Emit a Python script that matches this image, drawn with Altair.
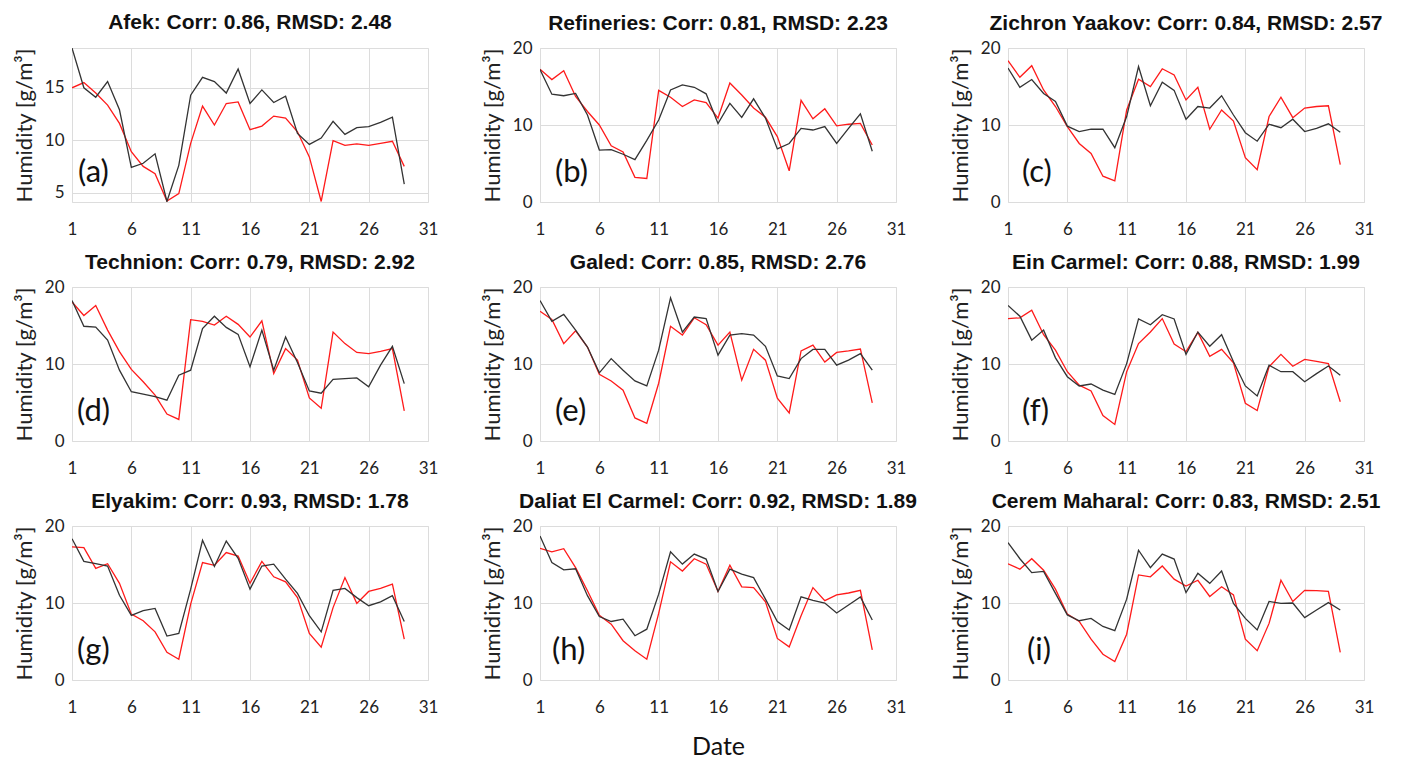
import altair as alt
import pandas as pd

days = list(range(1, 30))

stations = ["Afek", "Refineries", "Zichron Yaakov", "Technion", "Galed",
            "Ein Carmel", "Elyakim", "Daliat El Carmel", "Cerem Maharal"]
corr = ["0.86", "0.81", "0.84", "0.79", "0.85", "0.88", "0.93", "0.92", "0.83"]
rmsd = ["2.48", "2.23", "2.57", "2.92", "2.76", "1.99", "1.78", "1.89", "2.51"]
letters = ["(a)", "(b)", "(c)", "(d)", "(e)", "(f)", "(g)", "(h)", "(i)"]

black_a = [18.8, 15.0, 14.1, 15.6, 12.9, 7.4, 7.8, 8.7, 4.15, 7.6, 14.3, 16.0, 15.6, 14.5, 16.8,
           13.5, 14.8, 13.6, 14.2, 10.65, 9.6, 10.2, 11.8, 10.55, 11.2, 11.3, 11.7, 12.2, 5.8]
red_a = [15.0, 15.5, 14.5, 13.35, 11.6, 8.9, 7.5, 6.8, 4.2, 4.9, 9.7, 13.25, 11.45, 13.5, 13.65,
         11.0, 11.35, 12.3, 12.1, 10.8, 8.4, 4.15, 9.95, 9.5, 9.65, 9.5, 9.7, 9.9, 7.5]

black_b = [17.2, 14.0, 13.8, 14.1, 11.3, 6.75, 6.8, 6.2, 5.5, 8.0, 10.65, 14.55, 15.2, 14.9, 14.05,
           10.2, 12.8, 11.0, 13.4, 10.9, 6.9, 7.6, 9.55, 9.35, 9.8, 7.6, 9.55, 11.45, 6.6]
red_b = [17.25, 15.9, 17.05, 13.7, 11.75, 10.0, 7.3, 6.5, 3.2, 3.05, 14.5, 13.6, 12.4, 13.25, 12.9,
         10.9, 15.45, 13.9, 12.2, 11.0, 8.5, 4.05, 13.2, 10.8, 12.1, 9.9, 10.1, 10.2, 7.4]

black_c = [17.4, 14.9, 15.9, 14.1, 13.05, 9.85, 9.15, 9.45, 9.45, 7.05, 11.1, 17.6, 12.5, 15.55, 14.5,
           10.75, 12.4, 12.2, 13.8, 11.3, 9.0, 7.9, 10.1, 9.65, 10.75, 9.15, 9.55, 10.15, 9.05]
red_c = [18.35, 16.2, 17.7, 14.55, 12.4, 9.8, 7.6, 6.3, 3.35, 2.75, 11.95, 15.95, 15.0, 17.3, 16.5,
         13.25, 14.9, 9.45, 11.95, 10.5, 5.75, 4.2, 11.1, 13.6, 10.95, 12.2, 12.4, 12.5, 4.85]

black_d = [18.25, 14.9, 14.8, 13.1, 9.2, 6.4, 6.1, 5.75, 5.3, 8.55, 9.2, 14.6, 16.2, 14.75, 13.85,
           9.65, 14.4, 9.2, 13.5, 10.2, 6.5, 6.2, 8.0, 8.1, 8.2, 7.05, 9.85, 12.3, 7.45]
red_d = [18.05, 16.3, 17.6, 14.4, 11.6, 9.3, 7.7, 5.95, 3.5, 2.8, 15.75, 15.55, 15.05, 16.2, 15.15,
         13.5, 15.6, 8.75, 12.0, 10.5, 5.6, 4.25, 14.15, 12.65, 11.5, 11.35, 11.65, 12.0, 3.9]

black_e = [18.25, 15.55, 16.45, 14.4, 12.2, 8.85, 10.7, 9.2, 7.8, 7.15, 11.8, 18.6, 14.15, 16.1, 15.9,
           11.15, 13.75, 13.95, 13.75, 12.3, 8.45, 8.1, 10.7, 11.9, 11.9, 9.85, 10.5, 11.35, 9.2]
red_e = [16.85, 15.8, 12.65, 14.3, 12.2, 8.65, 7.8, 6.6, 3.0, 2.3, 7.5, 14.9, 13.75, 16.0, 15.1,
         12.45, 14.15, 7.9, 11.9, 10.5, 5.55, 3.65, 11.7, 12.45, 10.25, 11.5, 11.7, 11.95, 4.95]

black_f = [17.6, 16.2, 13.1, 14.4, 10.8, 8.35, 7.15, 7.4, 6.6, 6.05, 10.05, 15.85, 15.1, 16.4, 15.85,
           11.25, 14.15, 12.3, 13.8, 10.3, 7.15, 5.85, 9.85, 9.0, 9.0, 7.7, 8.75, 9.75, 8.55]
red_f = [15.9, 16.0, 17.0, 13.8, 11.8, 9.0, 7.25, 6.5, 3.3, 2.15, 9.0, 12.65, 14.15, 15.9, 12.6,
         11.6, 14.1, 11.0, 11.9, 10.15, 4.9, 3.95, 9.65, 11.25, 9.7, 10.6, 10.35, 10.05, 5.1]

black_g = [18.35, 15.4, 15.1, 14.8, 11.0, 8.4, 9.0, 9.3, 5.7, 6.05, 11.8, 18.15, 14.75, 18.05, 15.8,
           11.8, 14.8, 15.05, 13.1, 11.25, 8.35, 6.25, 11.65, 11.9, 10.7, 9.65, 10.15, 10.95, 7.6]
red_g = [17.3, 17.2, 14.5, 15.1, 12.55, 8.55, 7.7, 6.25, 3.6, 2.7, 9.85, 15.25, 14.9, 16.55, 16.1,
         12.55, 15.4, 13.4, 12.75, 10.7, 6.05, 4.25, 9.4, 13.3, 9.95, 11.5, 11.9, 12.45, 5.3]

black_h = [18.7, 15.25, 14.3, 14.45, 10.95, 8.25, 7.6, 7.9, 5.75, 6.6, 11.15, 16.65, 15.05, 16.35, 15.7,
           11.5, 14.4, 13.75, 13.3, 10.5, 7.6, 6.5, 10.8, 10.35, 10.0, 8.7, 9.75, 10.8, 7.8]
red_h = [17.1, 16.65, 17.05, 14.6, 11.6, 8.4, 7.25, 5.1, 3.8, 2.7, 8.65, 15.35, 14.15, 15.75, 15.05,
         11.5, 14.9, 12.1, 12.0, 10.15, 5.4, 4.3, 8.35, 12.0, 10.3, 11.05, 11.3, 11.65, 3.9]

black_i = [17.85, 15.75, 13.95, 14.1, 11.25, 8.45, 7.7, 8.0, 6.95, 6.4, 10.5, 16.85, 14.6, 16.35, 15.7,
           11.35, 13.85, 12.55, 14.15, 9.95, 8.0, 6.5, 10.2, 9.95, 10.0, 8.1, 9.1, 10.05, 9.1]
red_i = [15.1, 14.4, 15.75, 14.25, 11.8, 8.55, 7.6, 5.3, 3.35, 2.4, 5.95, 13.65, 13.4, 14.8, 13.1,
         12.2, 12.95, 10.85, 12.1, 11.05, 5.3, 3.8, 7.35, 12.95, 10.2, 11.65, 11.6, 11.5, 3.6]

blacks = [black_a, black_b, black_c, black_d, black_e, black_f, black_g, black_h, black_i]
reds = [red_a, red_b, red_c, red_d, red_e, red_f, red_g, red_h, red_i]

x_ticks = [1, 6, 11, 16, 21, 26, 31]
y_ticks_full = [0, 5, 10, 15, 20]
y_ticks_a = [5, 10, 15]
y_domain_a = [4.1, 18.8]
y_domain_full = [0, 20]
label_dx = [6, 15, 14, 5, 15, 14, 5, 12, 19]

W, H = 356, 154
TICK_FONT = "Lato"


def panel(i):
    df = pd.DataFrame({"day": days, "Observed": blacks[i], "Model": reds[i]})
    ydom = y_domain_a if i == 0 else y_domain_full
    yt = y_ticks_a if i == 0 else y_ticks_full
    xaxis = alt.Axis(values=x_ticks, grid=True, gridColor="#dcdcdc", domain=False,
                     ticks=False, labelFlush=False, labelOverlap=False, labelPadding=19,
                     labelFontSize=17, labelFont=TICK_FONT, labelColor="#222",
                     title="Date" if i == 7 else None, titleFontSize=25,
                     titleFont=TICK_FONT, titleFontWeight="normal", titleColor="#111",
                     titlePadding=19)
    yaxis = alt.Axis(values=yt, grid=True, gridColor="#dcdcdc", domain=False,
                     ticks=False, labelOverlap=False, labelPadding=8, labelFontSize=17,
                     labelFont=TICK_FONT, labelColor="#222", title="Humidity [g/m³]",
                     titleFontSize=22, titleFont=TICK_FONT, titleFontWeight="normal",
                     titleColor="#222", titlePadding=8)
    x = alt.X("day:Q", scale=alt.Scale(domain=[1, 31], nice=False, zero=False), axis=xaxis)
    red = alt.Chart(df).mark_line(color="#ff1a1a", strokeWidth=1.3, clip=True).encode(
        x=x, y=alt.Y("Model:Q", scale=alt.Scale(domain=ydom, nice=False, zero=False), axis=yaxis))
    black = alt.Chart(df).mark_line(color="#333333", strokeWidth=1.3, clip=True).encode(
        x=alt.X("day:Q"), y=alt.Y("Observed:Q"))
    lab = alt.Chart(pd.DataFrame({"t": [letters[i]]})).mark_text(
        align="left", baseline="middle", fontSize=31, font=TICK_FONT, color="#111").encode(
        text="t:N", x=alt.value(label_dx[i]), y=alt.value(125))
    title = alt.TitleParams(f"{stations[i]}: Corr: {corr[i]}, RMSD: {rmsd[i]}",
                            font="Liberation Sans", fontSize=21, fontWeight="bold",
                            color="#111", offset=15 if i == 0 else 5, anchor="middle",
                            frame="group")
    return alt.layer(red, black, lab).properties(width=W, height=H, title=title)


chart = alt.concat(*[panel(i) for i in range(9)], columns=3).properties(
    bounds="flush",
    spacing={"row": 85, "column": 112},
    padding={"left": 4, "top": 3, "right": 5, "bottom": 0}
).configure_view(stroke="#444444", strokeWidth=1).configure(background="white")

chart.save("out.html", embed_options={"renderer": "svg", "actions": False})
